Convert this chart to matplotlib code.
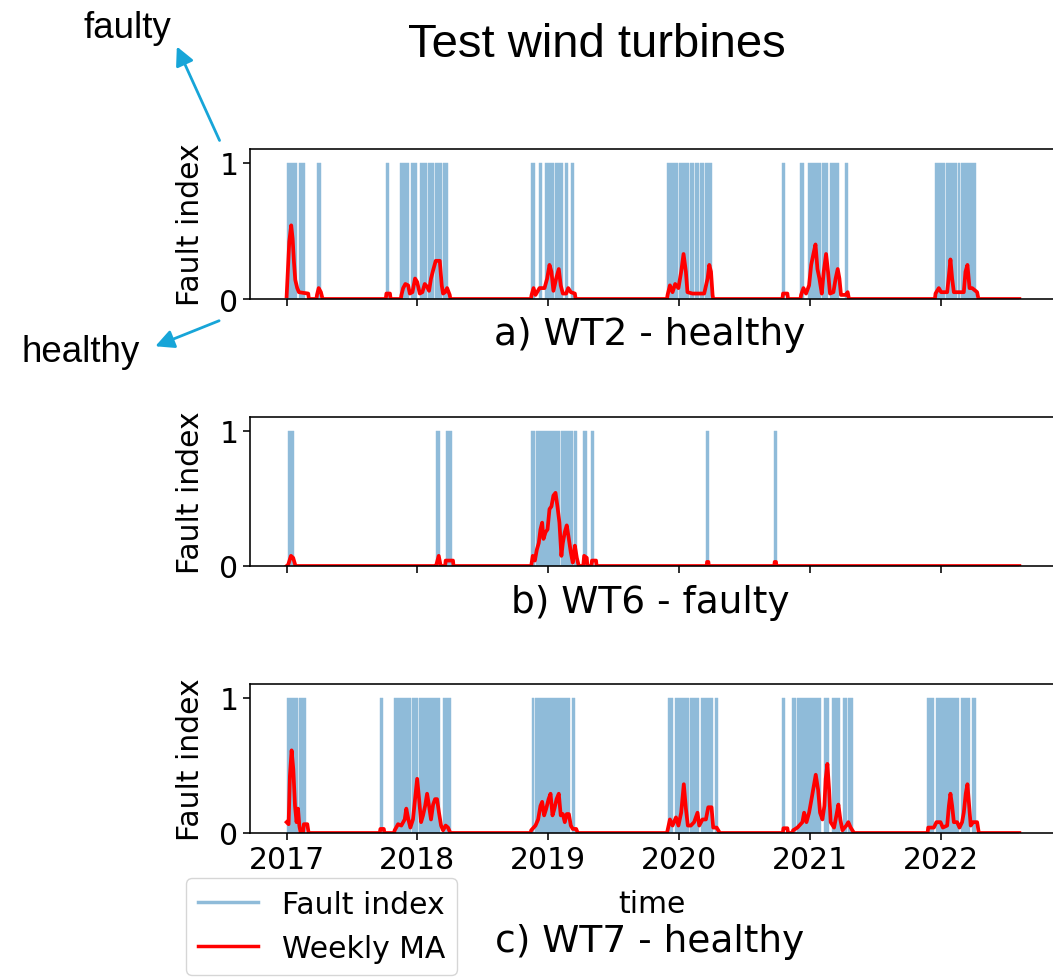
import matplotlib
matplotlib.use("Agg")
import matplotlib.pyplot as plt
from matplotlib.lines import Line2D

# Time is given in decimal years.
years = [2017, 2018, 2019, 2020, 2021, 2022]
t_start, t_end = 2017.0, 2022.603

# Periods where the fault index switches to 1 (start, end)
wt2_fault_on = [
    (2017.005, 2017.082), (2017.092, 2017.143), (2017.231, 2017.260),
    (2017.758, 2017.779), (2017.870, 2017.934), (2017.954, 2017.998),
    (2018.018, 2018.074), (2018.082, 2018.128), (2018.133, 2018.189),
    (2018.195, 2018.233), (2018.872, 2018.900), (2018.929, 2018.952),
    (2018.972, 2019.045), (2019.050, 2019.117), (2019.130, 2019.155),
    (2019.174, 2019.200), (2019.910, 2019.996), (2020.004, 2020.073),
    (2020.084, 2020.117), (2020.124, 2020.155), (2020.162, 2020.193),
    (2020.200, 2020.249), (2020.788, 2020.810), (2020.925, 2020.958),
    (2020.990, 2021.087), (2021.097, 2021.143), (2021.153, 2021.224),
    (2021.270, 2021.295), (2021.955, 2022.031), (2022.039, 2022.125),
    (2022.133, 2022.151), (2022.158, 2022.270),
]
wt6_fault_on = [
    (2017.012, 2017.058), (2018.145, 2018.170), (2018.216, 2018.264),
    (2018.870, 2018.903), (2018.908, 2019.090), (2019.095, 2019.190),
    (2019.195, 2019.221), (2019.270, 2019.295), (2019.328, 2019.351),
    (2020.207, 2020.229), (2020.724, 2020.746),
]
wt7_fault_on = [
    (2017.000, 2017.084), (2017.094, 2017.147), (2017.712, 2017.735),
    (2017.821, 2017.954), (2017.959, 2018.005), (2018.012, 2018.170),
    (2018.198, 2018.254), (2018.873, 2018.895), (2018.903, 2019.168),
    (2019.180, 2019.203), (2019.913, 2019.957), (2019.966, 2020.073),
    (2020.086, 2020.155), (2020.168, 2020.262), (2020.277, 2020.300),
    (2020.788, 2020.814), (2020.867, 2020.893), (2020.900, 2021.085),
    (2021.108, 2021.151), (2021.172, 2021.228), (2021.254, 2021.286),
    (2021.294, 2021.331), (2021.898, 2021.949), (2021.962, 2022.145),
    (2022.155, 2022.229), (2022.241, 2022.271),
]

# Weekly moving average (time, value)
wt2_ma = [
    (2017.000, 0.02), (2017.020, 0.42), (2017.035, 0.54), (2017.046, 0.44),
    (2017.056, 0.27), (2017.066, 0.14), (2017.081, 0.08), (2017.094, 0.05),
    (2017.127, 0.045), (2017.165, 0.04), (2017.170, 0),
    (2017.228, 0), (2017.232, 0.03), (2017.245, 0.08), (2017.262, 0.05), (2017.275, 0),
    (2017.758, 0), (2017.763, 0.04), (2017.790, 0.04), (2017.795, 0),
    (2017.873, 0), (2017.878, 0.03), (2017.891, 0.08), (2017.908, 0.11),
    (2017.929, 0.10), (2017.942, 0.04), (2017.962, 0.05), (2017.982, 0.15),
    (2017.998, 0.125), (2018.018, 0.04), (2018.038, 0.05), (2018.056, 0.11),
    (2018.074, 0.09), (2018.089, 0.06), (2018.104, 0.15), (2018.120, 0.21),
    (2018.140, 0.28), (2018.171, 0.28), (2018.186, 0.10), (2018.196, 0.04),
    (2018.212, 0.05), (2018.227, 0.08), (2018.247, 0.03), (2018.252, 0),
    (2018.868, 0), (2018.873, 0.03), (2018.888, 0.08), (2018.903, 0.03),
    (2018.934, 0.08), (2018.972, 0.08), (2018.992, 0.15), (2019.010, 0.25),
    (2019.025, 0.20), (2019.040, 0.06), (2019.061, 0.15), (2019.081, 0.22),
    (2019.096, 0.10), (2019.112, 0.04), (2019.138, 0.04), (2019.153, 0.08),
    (2019.173, 0.05), (2019.204, 0.04), (2019.210, 0),
    (2019.908, 0), (2019.913, 0.03), (2019.931, 0.10), (2019.951, 0.05),
    (2019.971, 0.11), (2019.996, 0.08), (2020.017, 0.20), (2020.035, 0.33),
    (2020.053, 0.20), (2020.065, 0.05), (2020.103, 0.04), (2020.193, 0.04),
    (2020.219, 0.15), (2020.232, 0.25), (2020.245, 0.20), (2020.257, 0.03), (2020.262, 0),
    (2020.791, 0), (2020.796, 0.04), (2020.829, 0.04), (2020.834, 0),
    (2020.929, 0), (2020.934, 0.03), (2020.952, 0.08), (2020.972, 0.04),
    (2020.995, 0.10), (2021.011, 0.25), (2021.028, 0.33), (2021.044, 0.40),
    (2021.059, 0.22), (2021.074, 0.15), (2021.092, 0.04), (2021.107, 0.20),
    (2021.125, 0.33), (2021.140, 0.20), (2021.155, 0.04), (2021.181, 0.05),
    (2021.198, 0.15), (2021.214, 0.22), (2021.227, 0.15), (2021.239, 0.03),
    (2021.275, 0.03), (2021.290, 0.05), (2021.300, 0),
    (2021.957, 0), (2021.962, 0.04), (2021.987, 0.08), (2022.005, 0.05),
    (2022.051, 0.05), (2022.064, 0.17), (2022.076, 0.29), (2022.089, 0.15),
    (2022.102, 0.05), (2022.178, 0.05), (2022.191, 0.20), (2022.206, 0.25),
    (2022.222, 0.08), (2022.242, 0.08), (2022.280, 0.05), (2022.290, 0),
    (2022.603, 0),
]
wt6_ma = [
    (2017.000, 0), (2017.012, 0.01), (2017.033, 0.075), (2017.050, 0.06), (2017.068, 0),
    (2018.140, 0), (2018.145, 0.01), (2018.163, 0.075), (2018.178, 0),
    (2018.212, 0), (2018.216, 0.04), (2018.272, 0.04), (2018.276, 0),
    (2018.870, 0), (2018.882, 0.075), (2018.898, 0.04), (2018.913, 0.12),
    (2018.928, 0.17), (2018.941, 0.27), (2018.954, 0.32), (2018.964, 0.20),
    (2018.980, 0.25), (2018.995, 0.27), (2019.010, 0.42), (2019.025, 0.44),
    (2019.040, 0.52), (2019.056, 0.54), (2019.071, 0.44), (2019.086, 0.32),
    (2019.101, 0.075), (2019.112, 0.17), (2019.127, 0.25), (2019.142, 0.30),
    (2019.158, 0.20), (2019.173, 0.10), (2019.188, 0.025), (2019.204, 0.15),
    (2019.219, 0.06), (2019.234, 0),
    (2019.268, 0), (2019.275, 0.075), (2019.295, 0.06), (2019.300, 0),
    (2019.330, 0), (2019.335, 0.04), (2019.366, 0.04), (2019.370, 0),
    (2020.212, 0), (2020.215, 0.03), (2020.225, 0.03), (2020.228, 0),
    (2020.729, 0), (2020.732, 0.03), (2020.742, 0.03), (2020.745, 0),
    (2022.603, 0),
]
wt7_ma = [
    (2017.000, 0.08), (2017.015, 0.065), (2017.025, 0.42), (2017.038, 0.61),
    (2017.051, 0.47), (2017.064, 0.20), (2017.076, 0.08), (2017.087, 0.18),
    (2017.097, 0.055), (2017.107, 0), (2017.125, 0), (2017.132, 0.065),
    (2017.158, 0.065), (2017.168, 0),
    (2017.712, 0), (2017.717, 0.03), (2017.743, 0.03), (2017.748, 0),
    (2017.821, 0), (2017.826, 0.02), (2017.852, 0.065), (2017.877, 0.055),
    (2017.903, 0.10), (2017.915, 0.18), (2017.931, 0.10), (2017.946, 0.04),
    (2017.966, 0.10), (2017.982, 0.25), (2017.998, 0.40), (2018.013, 0.25),
    (2018.028, 0.08), (2018.043, 0.13), (2018.059, 0.20), (2018.074, 0.29),
    (2018.089, 0.20), (2018.104, 0.10), (2018.120, 0.21), (2018.135, 0.25),
    (2018.150, 0.25), (2018.165, 0.15), (2018.181, 0.055), (2018.196, 0.02),
    (2018.216, 0.055), (2018.234, 0.04), (2018.252, 0),
    (2018.865, 0), (2018.870, 0.02), (2018.903, 0.055), (2018.923, 0.10),
    (2018.941, 0.20), (2018.954, 0.23), (2018.969, 0.13), (2018.985, 0.18),
    (2019.003, 0.25), (2019.018, 0.29), (2019.033, 0.13), (2019.048, 0.18),
    (2019.064, 0.25), (2019.081, 0.29), (2019.096, 0.13), (2019.112, 0.14),
    (2019.127, 0.08), (2019.142, 0.14), (2019.158, 0.14), (2019.173, 0.055),
    (2019.188, 0.03), (2019.214, 0.03), (2019.226, 0),
    (2019.908, 0), (2019.913, 0.02), (2019.931, 0.10), (2019.951, 0.055),
    (2019.977, 0.115), (2019.996, 0.055), (2020.017, 0.15), (2020.037, 0.36),
    (2020.053, 0.18), (2020.068, 0.055), (2020.091, 0.055), (2020.116, 0.08),
    (2020.142, 0.15), (2020.155, 0.055), (2020.180, 0.10), (2020.206, 0.10),
    (2020.224, 0.19), (2020.249, 0.19), (2020.262, 0.04), (2020.288, 0.04), (2020.313, 0),
    (2020.794, 0), (2020.799, 0.035), (2020.829, 0.035), (2020.834, 0),
    (2020.868, 0), (2020.873, 0.02), (2020.906, 0.04), (2020.944, 0.08),
    (2020.957, 0.15), (2020.975, 0.08), (2020.995, 0.15), (2021.010, 0.23),
    (2021.026, 0.32), (2021.046, 0.43), (2021.064, 0.32), (2021.079, 0.15),
    (2021.097, 0.10), (2021.112, 0.20), (2021.122, 0.40), (2021.135, 0.51),
    (2021.148, 0.32), (2021.160, 0.08), (2021.186, 0.04), (2021.204, 0.13),
    (2021.219, 0.21), (2021.234, 0.10), (2021.250, 0.02), (2021.280, 0.055),
    (2021.295, 0.08), (2021.313, 0.04), (2021.339, 0),
    (2021.901, 0), (2021.906, 0.04), (2021.949, 0.04), (2021.969, 0.08),
    (2022.000, 0.08), (2022.018, 0.04), (2022.051, 0.055), (2022.064, 0.20),
    (2022.076, 0.29), (2022.089, 0.20), (2022.102, 0.08), (2022.127, 0.08),
    (2022.145, 0.04), (2022.165, 0.08), (2022.178, 0.15), (2022.193, 0.29),
    (2022.206, 0.36), (2022.219, 0.20), (2022.231, 0.055), (2022.249, 0.08),
    (2022.280, 0.08), (2022.293, 0),
    (2022.603, 0),
]

panels = [
    ("a) WT2 - healthy", wt2_fault_on, wt2_ma),
    ("b) WT6 - faulty", wt6_fault_on, wt6_ma),
    ("c) WT7 - healthy", wt7_fault_on, wt7_ma),
]

FI_COLOR = "#8fbbd9"
MA_COLOR = "red"
ARROW_COLOR = "#17a5d8"
FS = 21.5

W, H = 1053, 978


def fx(px):
    return px / W


def fy(py):
    return 1 - py / H


def fault_path(intervals):
    xs, ys = [t_start], [0]
    for s, e in intervals:
        xs += [s, s, e, e]
        ys += [0, 1, 1, 0]
    xs.append(t_end)
    ys.append(0)
    return xs, ys


plt.rcParams["font.family"] = ["DejaVu Sans"]
plt.rcParams["axes.linewidth"] = 1.15
fig = plt.figure(figsize=(W / 100, H / 100), dpi=100)

# axes boxes in pixels: (top, bottom)
boxes = [(150, 300), (418, 567), (685, 834)]
sub_y = [335, 603, 942]
left_px, right_px = 250, 1056

axes = []
for (title, on, ma), (top, bot), sy in zip(panels, boxes, sub_y):
    ax = fig.add_axes([fx(left_px), fy(bot), fx(right_px - left_px), (bot - top) / H])
    xs, ys = fault_path(on)
    ax.fill_between(xs, 0, ys, color=FI_COLOR, lw=0.3, edgecolor=FI_COLOR)
    ax.plot([p[0] for p in ma], [p[1] for p in ma], color=MA_COLOR, lw=2.7)
    ax.set_ylim(0, 1.1)
    ax.set_yticks([0, 1])
    ax.set_xticks(years)
    ax.set_ylabel("Fault index", fontsize=FS, labelpad=10)
    ax.tick_params(labelsize=FS, length=5, width=1.15)
    if title[0] != "c":
        ax.set_xticklabels([])
    fig.text(fx(650), fy(sy), title, fontsize=27, ha="center", va="center")
    axes.append(ax)

fig.text(fx(652), fy(905), "time", fontsize=FS, ha="center", va="center")

handles = [Line2D([], [], color=FI_COLOR, lw=2.5), Line2D([], [], color=MA_COLOR, lw=2.5)]
axes[2].legend(handles, ["Fault index", "Weekly MA"], fontsize=FS, loc="upper left",
               bbox_to_anchor=(fx(186), fy(879)), bbox_transform=fig.transFigure,
               handlelength=2.0, borderaxespad=0)

fig.text(fx(597), fy(45), "Test wind turbines", fontsize=34, ha="center", va="center",
         family="Liberation Sans")
fig.text(fx(127), fy(28), "faulty", fontsize=26.5, ha="center", va="center",
         family="Liberation Sans")
fig.text(fx(81), fy(353), "healthy", fontsize=26.5, ha="center", va="center",
         family="Liberation Sans")

arrow_kw = dict(arrowstyle="-|>", color=ARROW_COLOR, lw=2, mutation_scale=28)
axes[0].annotate("", xy=(fx(175.7), fy(45)), xytext=(fx(220.7), fy(144)),
                 xycoords="figure fraction", textcoords="figure fraction",
                 arrowprops=arrow_kw, annotation_clip=False)
axes[0].annotate("", xy=(fx(152.7), fy(348.3)), xytext=(fx(221.7), fy(320.7)),
                 xycoords="figure fraction", textcoords="figure fraction",
                 arrowprops=arrow_kw, annotation_clip=False)

fig.savefig("out.png", dpi=100)
